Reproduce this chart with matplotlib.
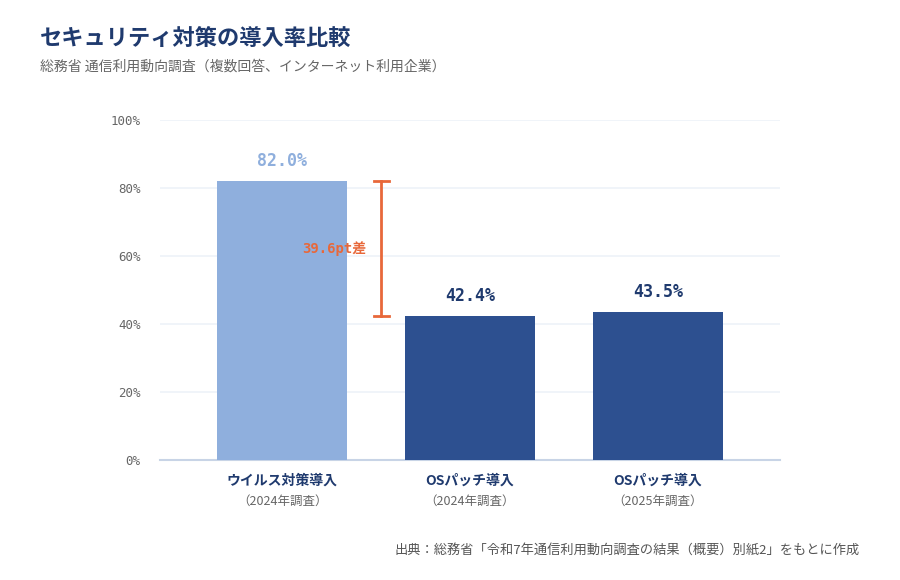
import matplotlib
matplotlib.use('Agg')
import matplotlib.pyplot as plt

plt.rcParams['font.family'] = ['Noto Sans CJK JP', 'DejaVu Sans']

categories = ['ウイルス対策導入', 'OSパッチ導入', 'OSパッチ導入']
subcats = ['（2024年調査）', '（2024年調査）', '（2025年調査）']
values = [82.0, 42.4, 43.5]
yticks = [0, 20, 40, 60, 80, 100]

light = '#8FAFDD'
dark = '#2D5090'
navy = '#1F3A6E'
orange = '#E8683A'
mono = ['DejaVu Sans Mono', 'Noto Sans CJK JP']

fig = plt.figure(figsize=(9, 5.8), dpi=100)
ax = fig.add_axes([160/900, 1-460/580, 620/900, 340/580])

x = range(len(values))
colors = [light, dark, dark]
ax.bar(x, values, width=0.69, color=colors, zorder=3)

for i, v in enumerate(values):
    ax.text(i, v + 3.3, f'{v:.1f}%', ha='center', va='bottom', fontsize=12,
            fontweight='bold', color=light if i == 0 else navy, family=mono)

# difference bracket
bx = 0.527
ax.plot([bx, bx], [values[1], values[0]], color=orange, lw=2, zorder=4)
ax.plot([bx - 0.04, bx + 0.04], [values[0]] * 2, color=orange, lw=2, zorder=4)
ax.plot([bx - 0.04, bx + 0.04], [values[1]] * 2, color=orange, lw=2, zorder=4)
ax.text(bx - 0.08, (values[0] + values[1]) / 2, f'{values[0] - values[1]:.1f}pt差',
        ha='right', va='center', fontsize=10, fontweight='bold', color=orange, family=mono)

ax.set_xlim(-0.65, 2.65)
ax.set_ylim(0, 100)
ax.set_yticks(yticks)
ax.set_yticklabels([f'{t}%' for t in yticks], family=mono, fontsize=9, color='#666666')
ax.grid(axis='y', color='#EEF2F8', lw=1.2, zorder=0)
for s in ['top', 'right', 'left']:
    ax.spines[s].set_visible(False)
ax.spines['bottom'].set_color('#C8D4E6')
ax.spines['bottom'].set_linewidth(1.5)
ax.tick_params(axis='both', length=0)
ax.tick_params(axis='y', pad=14)
ax.set_xticks(list(x))
ax.set_xticklabels([''] * len(values))

for i in x:
    ax.text(i, -6, categories[i], ha='center', va='center', fontsize=10,
            fontweight='bold', color=navy)
    ax.text(i, -12, subcats[i], ha='center', va='center', fontsize=9, color='#666666')

fig.text(40/900, 1-38/580, 'セキュリティ対策の導入率比較', fontsize=16, fontweight='bold',
         color=navy, va='center')
fig.text(40/900, 1-67/580, '総務省 通信利用動向調査（複数回答、インターネット利用企業）',
         fontsize=10, color='#666666', va='center')
fig.text(860/900, 1-551/580, '出典：総務省「令和7年通信利用動向調査の結果（概要）別紙2」をもとに作成',
         fontsize=9.5, color='#555555', va='center', ha='right')

fig.savefig('out.png', dpi=100)
